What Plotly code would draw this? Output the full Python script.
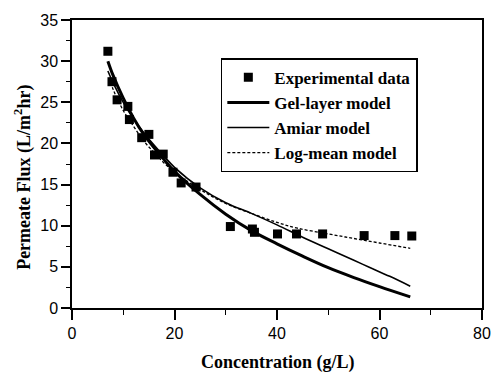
import plotly.graph_objects as go

# Experimental data
exp_x = [7.0, 7.8, 8.8, 10.9, 11.2, 13.6, 15.0, 16.1, 17.8, 19.7, 21.3, 24.2,
         30.9, 35.2, 35.6, 40.1, 43.8, 48.9, 57.0, 63.0, 66.3]
exp_y = [31.2, 27.5, 25.3, 24.5, 22.9, 20.7, 21.1, 18.6, 18.7, 16.5, 15.2, 14.7,
         9.9, 9.6, 9.2, 9.0, 9.0, 9.0, 8.8, 8.8, 8.75]

# Gel-layer model
gel_x = [7, 8, 10, 12, 14, 16, 18, 20, 25, 30, 35, 40, 45, 50, 55, 60, 66]
gel_y = [30.0, 28.3, 25.5, 23.1, 21.1, 19.5, 18.0, 16.6, 13.8, 11.4, 9.4, 7.8,
         6.3, 4.9, 3.7, 2.6, 1.35]

# Amiar model
ami_x = [7, 8, 10, 12, 14, 16, 18, 20, 25, 30, 35, 40, 45, 50, 55, 58, 62, 66]
ami_y = [28.8, 27.4, 25.0, 23.0, 21.3, 19.8, 18.4, 17.1, 14.6, 12.8, 11.5, 10.1,
         8.6, 7.2, 5.8, 4.95, 3.85, 2.65]

# Log-mean model
log_x = [7.3, 8, 10, 12, 14, 16, 18, 20, 25, 30, 35, 40, 44, 50, 55, 60, 66]
log_y = [28.0, 26.6, 24.0, 22.1, 20.3, 18.9, 17.6, 16.5, 14.4, 12.7, 11.5, 10.4,
         9.7, 9.0, 8.45, 7.9, 7.25]

x_ticks = [0, 20, 40, 60, 80]
y_ticks = [0, 5, 10, 15, 20, 25, 30, 35]

fig = go.Figure()
fig.add_trace(go.Scatter(x=exp_x, y=exp_y, mode="markers", name="Experimental data",
                         marker=dict(symbol="square", size=9, color="black")))
fig.add_trace(go.Scatter(x=gel_x, y=gel_y, mode="lines", name="Gel-layer model",
                         line=dict(color="black", width=3, shape="spline")))
fig.add_trace(go.Scatter(x=ami_x, y=ami_y, mode="lines", name="Amiar model",
                         line=dict(color="black", width=1.6, shape="spline")))
fig.add_trace(go.Scatter(x=log_x, y=log_y, mode="lines", name="Log-mean model",
                         line=dict(color="black", width=1.3, dash="3px,2px", shape="spline")))

axis_common = dict(showgrid=False, zeroline=False, showline=True, linecolor="black",
                   linewidth=1.5, mirror=True, ticks="outside", tickcolor="black",
                   tickwidth=1.5,
                   tickfont=dict(family="Liberation Sans", size=16, color="black"))

fig.update_xaxes(range=[0, 80], tickvals=x_ticks, ticklen=10,
                 minor=dict(dtick=10, ticklen=5, ticks="outside", tickcolor="black", tickwidth=1.2),
                 **axis_common)
fig.update_yaxes(range=[0, 35], tickvals=y_ticks, ticklen=9,
                 minor=dict(dtick=2.5, ticklen=4, ticks="outside", tickcolor="black", tickwidth=1.2),
                 **axis_common)

title_font = dict(family="Liberation Serif", size=18, color="black", weight="bold")
fig.add_annotation(text="Concentration (g/L)", xref="paper", yref="paper",
                   x=0.5, y=-0.188, xanchor="center", yanchor="middle",
                   showarrow=False, font=title_font)
fig.add_annotation(text="Permeate Flux (L/m<sup>2</sup>hr)", xref="paper", yref="paper",
                   x=-0.118, y=0.454, xanchor="center", yanchor="middle", textangle=-90,
                   showarrow=False, font=title_font)

fig.update_layout(
    width=503, height=377,
    margin=dict(l=72, r=16, t=15, b=69),
    paper_bgcolor="white", plot_bgcolor="white",
    showlegend=True,
    legend=dict(x=0.363, y=0.867, xanchor="left", yanchor="top",
                bgcolor="white", bordercolor="black", borderwidth=1.5,
                itemwidth=42, tracegroupgap=0,
                font=dict(family="Liberation Serif", size=17, color="black", weight="bold")),
)

fig.write_html("out.html")
